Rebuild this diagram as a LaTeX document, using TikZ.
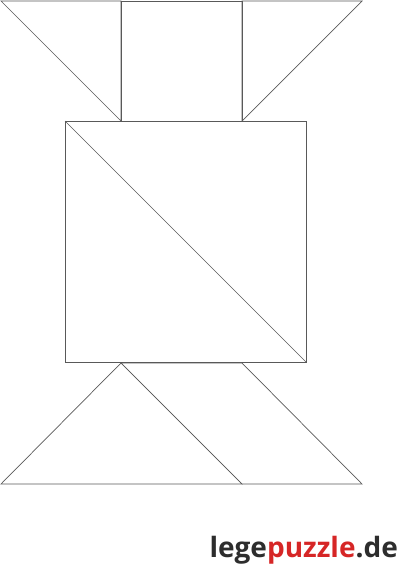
\documentclass[tikz,border=0pt]{standalone}
\usepackage{fontspec}
\setmainfont{Open Sans}
\usepackage{tikz}
\definecolor{logored}{RGB}{214,38,38}
\definecolor{logogrey}{RGB}{45,45,45}
\begin{document}
\begin{tikzpicture}[x=1pt,y=-1pt]
\tikzstyle{piece}=[draw=black!65,line width=0.7pt,line join=miter]
\useasboundingbox (0,0) rectangle (400,571);
% top row
\draw [piece] (1,1) -- (121,1) -- (121,121) -- cycle;
\draw [piece] (121,1) rectangle (242,121);
\draw [piece] (242,1) -- (362,1) -- (242,121) -- cycle;
% big square with diagonal
\draw [piece] (65,121) rectangle (306,362);
\draw [piece] (65,121) -- (306,362);
% bottom row
\draw [piece] (121,363) -- (242,484) -- (1,484) -- cycle;
\draw [piece] (121,363) -- (242,363) -- (362,484) -- (242,484) -- cycle;
% logo
\node (logo) [anchor=base east,inner sep=0pt,font=\fontsize{28}{32}\selectfont\bfseries]
  at (398,557) {\textcolor{logogrey}{lege}\textcolor{logored}{puzzle}\textcolor{logogrey}{.de}};
\end{tikzpicture}
\end{document}
